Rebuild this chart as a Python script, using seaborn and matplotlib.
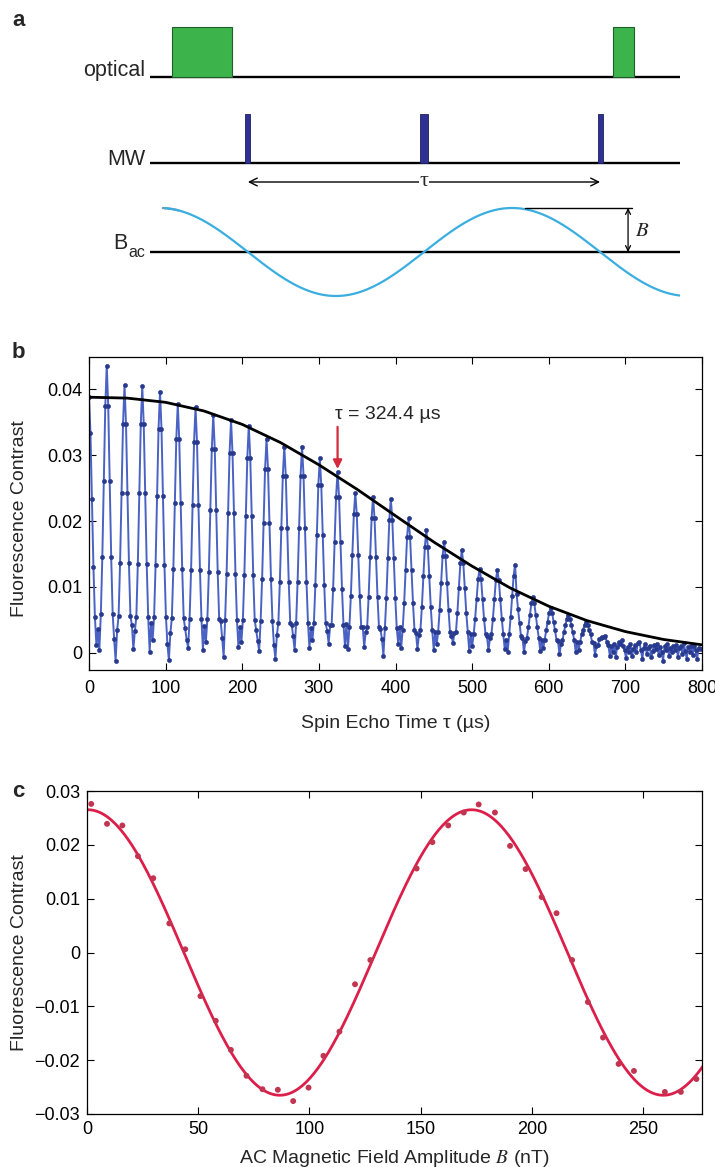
import numpy as np
import matplotlib
matplotlib.use("Agg")
import matplotlib.pyplot as plt
import seaborn as sns
from matplotlib.patches import Rectangle

# ---------------- panel a: pulse sequence (time in units of tau) ----------------
optical_pulses = [(-0.216, 0.171), (1.037, 0.060)]   # (start, width)
mw_pulse_times = [0.0, 0.5, 1.0]
mw_pulse_widths = [0.014, 0.023, 0.014]
seq_start, seq_end = -0.278, 1.227

# ---------------- panel b: spin echo revivals ----------------
echo_period_us = 23.17
samples_per_period = 12
# one row per revival period, contrast x 1e-3
echo_rows_milli = [
    [38.8, 33.3, 23.3, 13.0, 5.4, 1.2, 3.6, 0.4, 5.9, 14.5, 26.1, 37.4],
    [43.6, 37.4, 26.1, 14.5, 5.9, 2.1, -1.2, 3.4, 5.6, 13.6, 24.3, 34.8],
    [40.6, 34.8, 24.3, 13.6, 5.6, 4.2, 0.6, 3.3, 5.5, 13.5, 24.3, 34.7],
    [40.5, 34.7, 24.3, 13.5, 5.5, 0.2, 4.6, 1.9, 5.5, 13.3, 23.8, 34.0],
    [39.6, 34.0, 23.8, 13.3, 5.5, 1.3, -1.1, 3.0, 5.3, 12.7, 22.7, 32.4],
    [37.8, 32.4, 22.7, 12.7, 5.3, 3.7, 2.0, 0.8, 5.2, 12.6, 22.4, 32.0],
    [37.3, 32.0, 22.4, 12.6, 5.2, 0.5, 4.1, 1.7, 5.1, 12.2, 21.7, 31.0],
    [36.1, 31.0, 21.7, 12.2, 5.1, 4.8, 2.3, -0.6, 5.0, 12.0, 21.3, 30.3],
    [35.3, 30.3, 21.3, 12.0, 5.0, 0.9, 3.9, 1.6, 5.0, 11.8, 20.8, 29.6],
    [34.5, 29.6, 20.8, 11.8, 5.0, 3.4, 1.8, 0.3, 4.8, 11.2, 19.7, 27.9],
    [32.5, 27.9, 19.7, 11.2, 4.8, 1.2, -0.9, 2.7, 4.6, 10.8, 19.0, 26.9],
    [31.3, 26.9, 19.0, 10.8, 4.6, 4.3, 2.5, 0.4, 4.6, 10.8, 19.0, 26.9],
    [31.3, 26.9, 19.0, 10.8, 4.6, 0.7, 3.8, 1.9, 4.5, 10.3, 17.9, 25.4],
    [29.5, 25.4, 17.9, 10.3, 4.5, 3.3, 1.4, 4.2, 4.3, 9.7, 16.8, 23.7],
    [27.5, 23.7, 16.8, 9.7, 4.3, 1.1, 4.4, 0.6, 3.9, 8.7, 14.9, 21.0],
    [24.3, 21.0, 14.9, 8.7, 3.9, 4.0, 0.9, 3.1, 3.9, 8.5, 14.5, 20.4],
    [23.7, 20.4, 14.5, 8.5, 3.9, 3.6, 2.1, -0.4, 3.8, 8.4, 14.4, 20.2],
    [23.4, 20.2, 14.4, 8.4, 3.8, 1.4, 3.9, 0.8, 3.5, 7.5, 12.6, 17.6],
    [20.4, 17.6, 12.6, 7.5, 3.5, 3.0, 0.6, 2.7, 3.4, 7.0, 11.6, 16.1],
    [18.6, 16.1, 11.6, 7.0, 3.4, 0.5, 3.2, 1.3, 3.2, 6.5, 10.6, 14.7],
    [16.9, 14.7, 10.6, 6.5, 3.2, 2.6, 1.5, 3.0, 3.1, 6.1, 9.8, 13.6],
    [15.6, 13.6, 9.8, 6.1, 3.1, 0.3, 2.8, 1.1, 2.8, 5.2, 8.2, 11.2],
    [12.8, 11.2, 8.2, 5.2, 2.8, 2.5, 0.4, 2.2, 2.8, 5.2, 8.1, 11.0],
    [12.6, 11.0, 8.1, 5.2, 2.8, 0.6, 1.9, 0.2, 2.8, 5.4, 8.6, 11.7],
    [13.4, 9.0, 6.6, 4.5, 2.5, 2.2, 0.1, 1.8, 2.3, 3.9, 5.7, 7.5],
    [8.5, 7.5, 5.7, 3.9, 2.3, 0.3, 2.0, 0.7, 2.0, 3.4, 4.7, 6.1],
    [6.8, 6.1, 4.7, 3.4, 2.0, 1.8, -0.2, 1.3, 1.9, 3.1, 4.2, 5.2],
    [5.8, 5.2, 4.2, 3.1, 1.9, 0.1, 1.7, 0.5, 1.7, 2.8, 3.5, 4.3],
    [4.7, 4.3, 3.5, 2.8, 1.7, 1.5, -0.3, 1.1, 1.2, 2.1, 2.2, 2.4],
    [2.4, 2.6, 1.7, 1.2, -0.4, 1.0, 0.2, 1.4, -0.6, 0.9, 1.6, 1.3],
    [1.9, 1.1, 0.4, -0.8, 0.9, 0.1, 1.3, -0.5, 0.6, 1.2, 0.2, 1.5],
    [1.6, 0.5, -0.9, 0.8, 1.4, -0.2, 0.7, 1.1, -0.7, 0.3, 1.2, 0.6],
    [1.4, -0.3, 0.9, 0.2, -1.2, 1.0, 0.4, 1.3, -0.4, 0.8, 0.1, 1.1],
    [0.5, 1.2, -0.6, 0.7, 1.0, -0.1, 1.5, 0.3, -0.9, 0.9, 0.2, 1.0],
    [-0.3, 1.1, 0.4, -1.0, 0.8, 0.6],
]
# decay envelope (black line), read every 50 us
envelope_tau_us = [0, 50, 100, 150, 200, 250, 300, 350, 400, 450, 500, 550, 600, 650, 700, 750, 800]
envelope_milli = [38.8, 38.66, 38.02, 36.71, 34.67, 31.91, 28.54, 24.81, 20.80, 16.82,
                  13.15, 9.83, 7.08, 4.89, 3.23, 2.03, 1.22]
marked_tau_us = 324.4

# ---------------- panel c: contrast vs AC field amplitude ----------------
field_nT = [1.9, 9.0, 15.9, 22.9, 29.8, 37.0, 44.2, 51.0, 57.9, 64.7, 71.7, 78.9, 85.8,
            92.7, 99.6, 106.3, 113.5, 120.5, 127.4, 148.2, 155.3, 162.4, 169.4, 176.1,
            183.4, 190.2, 197.2, 204.4, 211.1, 218.1, 225.2, 232.0, 239.0, 245.9,
            259.8, 267.0, 274.0]
contrast_c = [0.0276, 0.0239, 0.0236, 0.0179, 0.0138, 0.0054, 0.0006, -0.0081, -0.0127,
              -0.0181, -0.0229, -0.0254, -0.0255, -0.0276, -0.0251, -0.0192, -0.0147,
              -0.0059, -0.0014, 0.0156, 0.0205, 0.0236, 0.0260, 0.0275, 0.0260, 0.0198,
              0.0155, 0.0103, 0.0073, -0.0014, -0.0092, -0.0158, -0.0207, -0.0220,
              -0.0259, -0.0259, -0.0235]

# ---------------- style ----------------
sns.set_theme(style="ticks", rc={"axes.edgecolor": "black", "xtick.color": "black",
                                  "ytick.color": "black", "axes.linewidth": 0.9})
plt.rcParams["font.family"] = ["Liberation Sans", "DejaVu Sans"]
plt.rcParams["mathtext.fontset"] = "stix"

W, H = 715, 1167
fig = plt.figure(figsize=(W / 100, H / 100), dpi=100)


def px_axes(left, top, right, bottom):
    return fig.add_axes([left / W, 1 - bottom / H, (right - left) / W, (bottom - top) / H])


# ---------------- panel a ----------------
ax_a = px_axes(150, 10, 680, 305)
ax_a.set_xlim(seq_start, seq_end)
ax_a.set_ylim(-228, 67)
ax_a.axis("off")
opt_lvl, mw_lvl, b_lvl = 0, -86, -175
for lvl in (opt_lvl, mw_lvl, b_lvl):
    ax_a.plot([seq_start, seq_end], [lvl, lvl], color="black", lw=1.7, solid_capstyle="butt")
for start, width in optical_pulses:
    ax_a.add_patch(Rectangle((start, opt_lvl), width, 50, facecolor="#3cb44b",
                             edgecolor="#1f5f2a", lw=0.8, zorder=3))
for t, w in zip(mw_pulse_times, mw_pulse_widths):
    ax_a.add_patch(Rectangle((t - w / 2, mw_lvl), w, 49, facecolor="#2e3192",
                             edgecolor="#1b1d5c", lw=0.6, zorder=3))
ax_a.annotate("", xy=(0, -105), xytext=(1, -105),
              arrowprops=dict(arrowstyle="<->", lw=1.0, color="black", shrinkA=0, shrinkB=0,
                              mutation_scale=14))
ax_a.text(0.5, -105, "τ", ha="center", va="center", fontsize=16, family="Liberation Serif",
          bbox=dict(facecolor="white", edgecolor="none", pad=0.5))
t_sig = np.linspace(-0.2415, seq_end, 400)
amp = 44
b_sig = b_lvl - amp * np.sin(2 * np.pi * t_sig)
grey = t_sig < -0.195
ax_a.plot(t_sig[grey], b_sig[grey], color="#8a8a8a", lw=1.6)
blue = ~grey | np.roll(grey, 1)
ax_a.plot(t_sig[blue], b_sig[blue], color="#3aaee0", lw=1.6)
ax_a.plot([0.787, 1.09], [b_lvl + amp, b_lvl + amp], color="black", lw=1.0)
ax_a.annotate("", xy=(1.0795, b_lvl + amp), xytext=(1.0795, b_lvl),
              arrowprops=dict(arrowstyle="<->", lw=0.9, color="black", shrinkA=0, shrinkB=0,
                              mutation_scale=9))
ax_a.text(1.100, b_lvl + 22, "$B$", ha="left", va="center", fontsize=15)
lbl_x = seq_start - 0.014
ax_a.text(lbl_x, opt_lvl + 1, "optical", ha="right", va="baseline", fontsize=15.5, clip_on=False)
ax_a.text(lbl_x, mw_lvl - 2, "MW", ha="right", va="baseline", fontsize=15.5, clip_on=False)
ax_a.annotate("ac", xy=(lbl_x, b_lvl - 5), ha="right", va="baseline", fontsize=11.5,
              annotation_clip=False)
ax_a.annotate("B", xy=(lbl_x, b_lvl + 3), xytext=(-12.5, 0), textcoords="offset points",
              ha="right", va="baseline", fontsize=15.5, annotation_clip=False)

# ---------------- panel b ----------------
contrast_b = np.concatenate([np.asarray(r, dtype=float) for r in echo_rows_milli]) * 1e-3
tau_b = np.arange(len(contrast_b)) * echo_period_us / samples_per_period

ax_b = px_axes(89, 357, 702, 670)
sns.lineplot(x=tau_b, y=contrast_b, ax=ax_b, color="#4a62c4", lw=1.4, sort=False,
             errorbar=None, marker="o", markersize=3.0, markeredgecolor="#283a8e",
             markerfacecolor="#283a8e", markeredgewidth=0.4)
sns.lineplot(x=envelope_tau_us, y=np.asarray(envelope_milli) * 1e-3, ax=ax_b,
             color="black", lw=2.0, errorbar=None)
ax_b.annotate("", xy=(marked_tau_us, 0.0279), xytext=(marked_tau_us, 0.0343),
              arrowprops=dict(arrowstyle="-|>", color="#d42a3c", lw=1.6, mutation_scale=13,
                              shrinkA=0, shrinkB=0))
ax_b.text(marked_tau_us - 3, 0.0362, "τ = 324.4 µs", fontsize=14, ha="left", va="center")
ax_b.set_xlim(0, 800)
ax_b.set_ylim(-0.0026, 0.0449)
ax_b.set_xticks(range(0, 801, 100))
ax_b.set_yticks([0, 0.01, 0.02, 0.03, 0.04], ["0", "0.01", "0.02", "0.03", "0.04"])
ax_b.set_xlabel("Spin Echo Time τ (µs)", fontsize=14)
ax_b.set_ylabel("Fluorescence Contrast", fontsize=14)
ax_b.xaxis.set_label_coords(0.5, -0.145)
ax_b.yaxis.set_label_coords(-0.10, 0.484)

# ---------------- panel c ----------------
B = np.asarray(field_nT)
C = np.asarray(contrast_c)
best = None
for period in np.arange(150, 200, 0.05):
    design = np.column_stack([np.cos(2 * np.pi * B / period), np.sin(2 * np.pi * B / period)])
    coef, *_ = np.linalg.lstsq(design, C, rcond=None)
    err = np.sum((design @ coef - C) ** 2)
    if best is None or err < best[0]:
        best = (err, period, coef)
_, period, coef = best
B_fit = np.linspace(0, 277, 500)
C_fit = coef[0] * np.cos(2 * np.pi * B_fit / period) + coef[1] * np.sin(2 * np.pi * B_fit / period)

ax_c = px_axes(87, 791, 702, 1114)
sns.lineplot(x=B_fit, y=C_fit, ax=ax_c, color="#dc1f4a", lw=2.0, errorbar=None)
sns.scatterplot(x=B, y=C, ax=ax_c, color="#c23550", s=18, edgecolor="none", zorder=3)
ax_c.set_xlim(0, 276.5)
ax_c.set_ylim(-0.03, 0.03)
ax_c.set_xticks([0, 50, 100, 150, 200, 250])
ax_c.set_yticks([-0.03, -0.02, -0.01, 0, 0.01, 0.02, 0.03],
                ["\u22120.03", "\u22120.02", "\u22120.01", "0", "0.01", "0.02", "0.03"])
ax_c.set_xlabel("AC Magnetic Field Amplitude $B$ (nT)", fontsize=14)
ax_c.set_ylabel("Fluorescence Contrast", fontsize=14)
ax_c.xaxis.set_label_coords(0.5, -0.105)
ax_c.yaxis.set_label_coords(-0.096, 0.5)

for ax in (ax_b, ax_c):
    ax.tick_params(direction="in", top=True, right=True, length=5, width=0.8,
                   labelsize=13, pad=5)
    for s in ax.spines.values():
        s.set_visible(True)
        s.set_linewidth(0.9)
ax_b.tick_params(axis="x", pad=7)

for letter, (x, y) in {"a": (12, 26), "b": (12, 358), "c": (12, 797)}.items():
    fig.text(x / W, 1 - y / H, letter, fontsize=16, fontweight="bold", ha="left", va="baseline")

fig.savefig("out.png", dpi=100)
